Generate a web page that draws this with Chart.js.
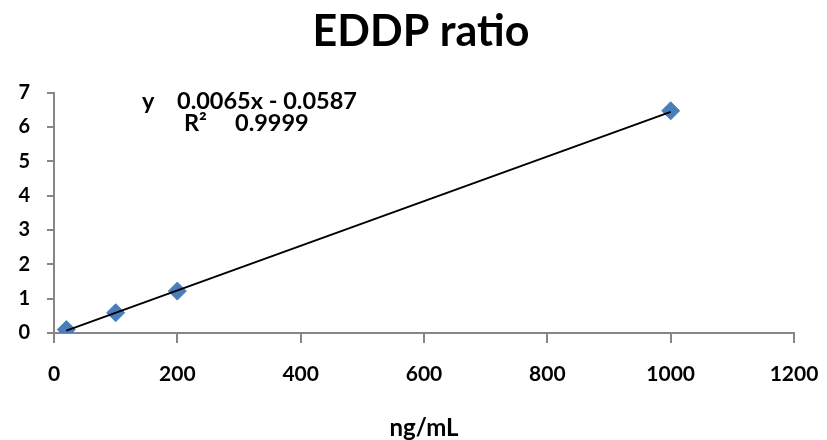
<!DOCTYPE html>
<html>
	<head>
		<title>EDDP ratio</title>
		<style>
body {
	margin: 0;
	background-color: #ffffff;
}
		</style>
	</head>
	<body>
		<canvas id="calib" width="827" height="440"></canvas>

		<script src="https://cdn.jsdelivr.net/npm/chart.js"></script>
		<script>
			// calibration points (ng/mL vs ratio)
			const concX = [20, 100, 200, 1000];
			const ratioY = [0.1, 0.59, 1.22, 6.47];
			// trendline ends
			const trendX = [20, 1000];
			const trendY = [0.07, 6.44];
			const eqText = ['y', '0.0065x - 0.0587'];
			const r2Text = ['R\u00b2', '0.9999'];

			const axisGray = '#868686';

			// writes the excel style trendline label
			const eqLabel = {
				id: 'eqLabel',
				afterDraw(chart) {
					const c = chart.ctx;
					c.save();
					c.fillStyle = '#000';
					c.textBaseline = 'middle';
					c.textAlign = 'left';
					c.font = 'bold 23.5px Lato';
					c.fillText(eqText[0], 142, 101);
					c.fillText(eqText[1], 177, 101);
					c.fillText(r2Text[0], 184, 123);
					c.fillText(r2Text[1], 235, 123);
					c.restore();
				}
			};

			const ctx = document.getElementById('calib').getContext('2d');
			const chart = new Chart(ctx, {
				type: 'scatter',
				data: {
					datasets: [{
						label: 'trend',
						type: 'line',
						data: trendX.map((x, i) => ({x: x, y: trendY[i]})),
						borderColor: '#000000',
						borderWidth: 2,
						pointRadius: 0,
						fill: false,
						order: 0
					}, {
						label: 'EDDP ratio',
						data: concX.map((x, i) => ({x: x, y: ratioY[i]})),
						backgroundColor: '#4a7ebb',
						borderColor: '#4a7ebb',
						pointStyle: 'rectRot',
						pointRadius: 9,
						order: 1
					}]
				},
				options: {
					responsive: false,
					animation: false,
					devicePixelRatio: 1,
					layout: {
						padding: {left: 15, right: 0, top: 0, bottom: 0}
					},
					plugins: {
						legend: {display: false},
						tooltip: {enabled: false},
						title: {
							display: true,
							text: 'EDDP ratio',
							color: '#000',
							font: {family: 'Lato', size: 43, weight: 'bold', lineHeight: 1.2},
							padding: {top: 6, bottom: 35}
						}
					},
					scales: {
						x: {
							type: 'linear',
							min: 0,
							max: 1200,
							afterFit: s => { s.height = 107; s.paddingRight = 33; },
							ticks: {
								stepSize: 200,
								color: '#000',
								padding: 19,
								maxRotation: 0,
								callback: v => String(v),
								font: {family: 'Lato', size: 21, weight: 'bold'}
							},
							grid: {drawOnChartArea: false, drawTicks: true, tickLength: 10, color: axisGray, lineWidth: 2},
							border: {display: true, color: axisGray, width: 2},
							title: {
								display: true,
								text: 'ng/mL',
								color: '#000',
								font: {family: 'Lato', size: 24, weight: 'bold', lineHeight: 1.0},
								padding: {top: 28, bottom: 0}
							}
						},
						y: {
							type: 'linear',
							min: 0,
							max: 7,
							afterFit: s => { s.width = 39; },
							ticks: {
								stepSize: 1,
								color: '#000',
								padding: 17,
								font: {family: 'Lato', size: 20, weight: 'bold'}
							},
							grid: {drawOnChartArea: false, drawTicks: true, tickLength: 7, color: axisGray, lineWidth: 2},
							border: {display: true, color: axisGray, width: 2}
						}
					}
				},
				plugins: [eqLabel]
			});
		</script>
	</body>
</html>
